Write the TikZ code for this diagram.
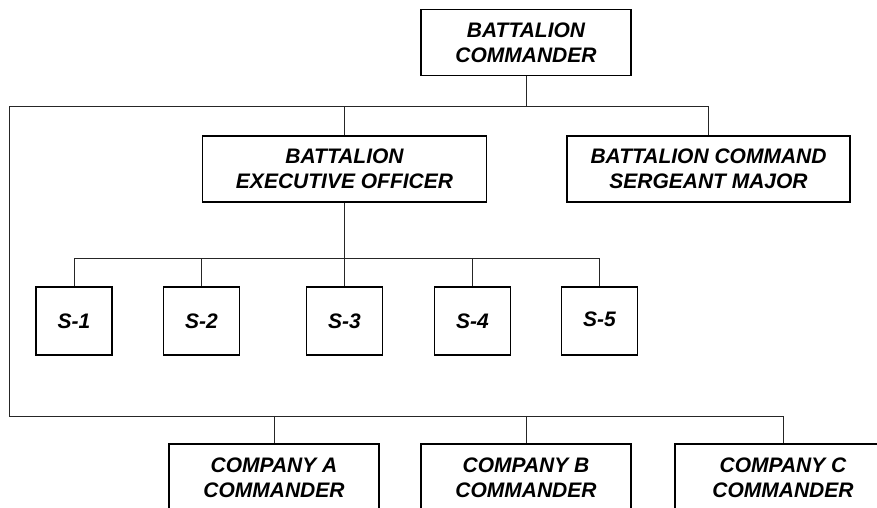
\documentclass[tikz,border=0pt]{standalone}
\usepackage{fontspec}
\setmainfont{Liberation Sans}
\begin{document}
\begin{tikzpicture}[x=1pt,y=1pt,
  box/.style={draw=black, line width=1.1pt, fill=white, align=center, inner sep=0pt,
    font=\fontsize{21}{25}\selectfont\bfseries\itshape},
  wide/.style={box, minimum height=66pt},
  sbox/.style={box, minimum width=76pt, minimum height=68pt},
  conn/.style={draw=black!85, line width=0.9pt}]
\useasboundingbox (0,0) rectangle (877,508);
\node[wide, minimum width=210pt] (BC) at (526,465.5) {BATTALION\\COMMANDER};
\node[wide, minimum width=284pt] (XO) at (344.5,339) {BATTALION\\EXECUTIVE OFFICER};
\node[wide, minimum width=283pt] (SGM) at (708.5,339) {BATTALION COMMAND\\SERGEANT MAJOR};
\node[sbox] (S1) at (74,187) {S-1};
\node[sbox] (S2) at (201.5,187) {S-2};
\node[sbox] (S3) at (344.5,187) {S-3};
\node[sbox] (S4) at (472.5,187) {S-4};
\node[sbox] (S5) at (599.5,187) {\raisebox{3pt}{S-5}};
\node[wide, minimum width=210pt, minimum height=67pt] (CA) at (274,30.5) {COMPANY A\\COMMANDER};
\node[wide, minimum width=210pt, minimum height=67pt] (CB) at (526,30.5) {COMPANY B\\COMMANDER};
\node[wide, minimum width=216pt, minimum height=67pt] (CC) at (783,30.5) {COMPANY C\\COMMANDER};
\coordinate (tl) at (9,402);
\coordinate (bl) at (9,92);
\coordinate (sb) at (0,250);
\draw[conn] (BC.south) -- (BC.south |- tl);
\draw[conn] (SGM.north) |- (tl) -- (bl) -| (CC.north);
\draw[conn] (XO.north) -- (XO.north |- tl);
\draw[conn] (bl -| CA.north) -- (CA.north);
\draw[conn] (bl -| CB.north) -- (CB.north);
\draw[conn] (XO.south) -- (S3.north);
\draw[conn] (S1.north) -- (S1.north |- sb) -- (S5.north |- sb) -- (S5.north);
\draw[conn] (S2.north) -- (S2.north |- sb);
\draw[conn] (S4.north) -- (S4.north |- sb);
\end{tikzpicture}
\end{document}
